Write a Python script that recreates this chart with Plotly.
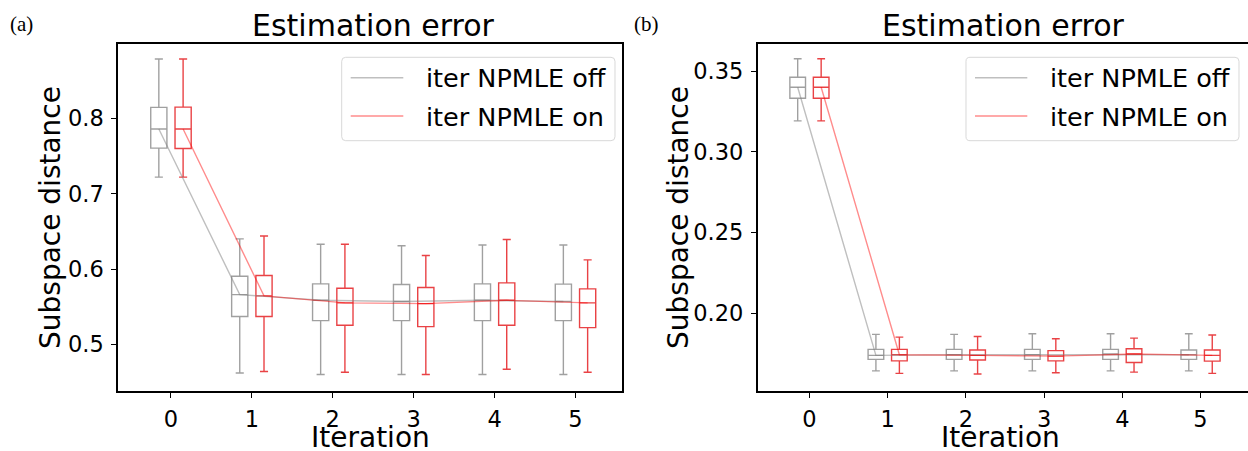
import plotly.graph_objects as go

W, H = 1248, 451

iterations = [0, 1, 2, 3, 4, 5]
offset = 0.15
labels = ["iter NPMLE off", "iter NPMLE on"]

# Panel (a)
a_off_lower = [0.722, 0.462, 0.460, 0.460, 0.460, 0.460]
a_off_q1 = [0.7605, 0.537, 0.5315, 0.5315, 0.5315, 0.5315]
a_off_med = [0.786, 0.566, 0.5585, 0.5568, 0.5585, 0.5568]
a_off_q3 = [0.8147, 0.5905, 0.5803, 0.5794, 0.5803, 0.580]
a_off_upper = [0.879, 0.640, 0.633, 0.631, 0.632, 0.632]

a_on_lower = [0.722, 0.464, 0.463, 0.460, 0.467, 0.463]
a_on_q1 = [0.760, 0.537, 0.5253, 0.5235, 0.5253, 0.5222]
a_on_med = [0.786, 0.5643, 0.555, 0.5541, 0.5585, 0.555]
a_on_q3 = [0.815, 0.5914, 0.5745, 0.5754, 0.5816, 0.5736]
a_on_upper = [0.879, 0.6438, 0.633, 0.618, 0.6393, 0.6122]

# Panel (b)
b_off_lower = [0.3192, 0.1642, 0.1642, 0.1642, 0.1642, 0.1642]
b_off_q1 = [0.3332, 0.1713, 0.1713, 0.1713, 0.1713, 0.1713]
b_off_med = [0.3401, 0.1738, 0.1742, 0.1742, 0.1746, 0.1742]
b_off_q3 = [0.3463, 0.1775, 0.1775, 0.1775, 0.1775, 0.1771]
b_off_upper = [0.3577, 0.1868, 0.1868, 0.1872, 0.1872, 0.1872]

b_on_lower = [0.3192, 0.1626, 0.1622, 0.1630, 0.1634, 0.1626]
b_on_q1 = [0.3332, 0.1704, 0.1709, 0.1704, 0.1694, 0.1702]
b_on_med = [0.3401, 0.1742, 0.1738, 0.1733, 0.1746, 0.1738]
b_on_q3 = [0.3463, 0.1775, 0.1771, 0.1767, 0.1779, 0.1771]
b_on_upper = [0.3577, 0.1851, 0.1855, 0.1841, 0.1845, 0.1864]

a_yticks = [0.5, 0.6, 0.7, 0.8]
b_yticks = [0.20, 0.25, 0.30, 0.35]

GRAY_BOX = "rgba(128,128,128,0.75)"
RED_BOX = "rgba(228,25,28,0.82)"
GRAY_LINE = "rgba(128,128,128,0.5)"
RED_LINE = "rgba(255,0,0,0.45)"
FONT = "DejaVu Sans"


def px(x):
    return x / W


def py(y):
    return 1 - y / H


fig = go.Figure()


def add_panel(xa, ya, off, on):
    for stats, sign, bc, lc in [(off, -1, GRAY_BOX, GRAY_LINE), (on, 1, RED_BOX, RED_LINE)]:
        lo, q1, med, q3, up = stats
        xs = [i + sign * offset for i in iterations]
        fig.add_trace(go.Box(
            x=xs, q1=q1, median=med, q3=q3, lowerfence=lo, upperfence=up,
            width=0.2, whiskerwidth=0.5, boxpoints=False,
            line=dict(color=bc, width=1.4), fillcolor="rgba(255,255,255,0)",
            xaxis=xa, yaxis=ya, showlegend=False, hoverinfo="skip"))
        fig.add_trace(go.Scatter(
            x=xs, y=med, mode="lines", line=dict(color=lc, width=1.4),
            xaxis=xa, yaxis=ya, showlegend=False, hoverinfo="skip"))


add_panel("x", "y",
          (a_off_lower, a_off_q1, a_off_med, a_off_q3, a_off_upper),
          (a_on_lower, a_on_q1, a_on_med, a_on_q3, a_on_upper))
add_panel("x2", "y2",
          (b_off_lower, b_off_q1, b_off_med, b_off_q3, b_off_upper),
          (b_on_lower, b_on_q1, b_on_med, b_on_q3, b_on_upper))

axis_common = dict(showline=True, mirror=True, linecolor="black", linewidth=2,
                   showgrid=False, zeroline=False, ticks="outside", ticklen=5,
                   tickwidth=1.2, tickcolor="black", automargin=False,
                   tickfont=dict(family=FONT, size=22.5, color="black"))

a_left, a_right = 118.3, 621.7
b_left, b_right = 757.8, 1248.0
top, bottom = 43.5, 390.5

fig.update_layout(
    width=W, height=H,
    margin=dict(l=0, r=0, t=0, b=0, autoexpand=False),
    paper_bgcolor="white", plot_bgcolor="white",
    boxmode="overlay",
    showlegend=False,
    xaxis=dict(domain=[px(a_left), px(a_right)], range=[-0.651, 5.571],
               tickvals=iterations, ticktext=[str(i) for i in iterations],
               anchor="y", ticklabelstandoff=2, **axis_common),
    yaxis=dict(domain=[py(bottom), py(top)], range=[0.4387, 0.8995],
               tickvals=a_yticks, ticktext=[f"{v:.1f}" for v in a_yticks],
               anchor="x", ticklabelstandoff=3, **axis_common),
    xaxis2=dict(domain=[px(b_left), px(b_right)], range=[-0.66, 5.607],
                tickvals=iterations, ticktext=[str(i) for i in iterations],
                anchor="y2", ticklabelstandoff=2, **axis_common),
    yaxis2=dict(domain=[py(bottom), py(top)], range=[0.152, 0.3672],
                tickvals=b_yticks, ticktext=[f"{v:.2f}" for v in b_yticks],
                anchor="x2", ticklabelstandoff=3, **axis_common),
)

annotations = []
shapes = []


def text(x, y, s, size, family=FONT, xanchor="center", yanchor="middle", angle=0):
    annotations.append(dict(x=px(x), y=py(y), xref="paper", yref="paper", text=s,
                            showarrow=False, xanchor=xanchor, yanchor=yanchor,
                            textangle=angle,
                            font=dict(family=family, size=size, color="black")))


def rounded_rect(x0, y0, x1, y1, r=4):
    X = lambda v: f"{px(v):.6f}"
    Y = lambda v: f"{py(v):.6f}"
    path = (f"M {X(x0 + r)},{Y(y0)} L {X(x1 - r)},{Y(y0)} Q {X(x1)},{Y(y0)} {X(x1)},{Y(y0 + r)} "
            f"L {X(x1)},{Y(y1 - r)} Q {X(x1)},{Y(y1)} {X(x1 - r)},{Y(y1)} "
            f"L {X(x0 + r)},{Y(y1)} Q {X(x0)},{Y(y1)} {X(x0)},{Y(y1 - r)} "
            f"L {X(x0)},{Y(y0 + r)} Q {X(x0)},{Y(y0)} {X(x0 + r)},{Y(y0)} Z")
    shapes.append(dict(type="path", path=path, xref="paper", yref="paper",
                       line=dict(color="#d8d8d8", width=1), fillcolor="rgba(255,255,255,0.8)"))


def legend(x0, x1, line_x0, line_x1, text_x):
    rounded_rect(x0, 57.3, x1, 140.7)
    for yy, col, lab in [(77.7, GRAY_LINE, labels[0]), (116.0, RED_LINE, labels[1])]:
        shapes.append(dict(type="line", xref="paper", yref="paper",
                           x0=px(line_x0), x1=px(line_x1), y0=py(yy), y1=py(yy),
                           line=dict(color=col, width=1.4)))
        text(text_x, yy + 0.5, lab, 25.5, xanchor="left")


legend(341.7, 615.0, 350.7, 403.3, 424.0)
legend(966.0, 1239.0, 975.0, 1027.3, 1047.5)

# titles
text((a_left + a_right) / 2 + 3, 26, "Estimation error", 30)
text((b_left + 1244) / 2 + 3, 26, "Estimation error", 30)
# axis titles
text(50, 218, "Subspace distance", 28, angle=-90)
text(678, 218, "Subspace distance", 28, angle=-90)
text((a_left + a_right) / 2, 437, "Iteration", 28)
text((b_left + 1244) / 2, 437, "Iteration", 28)
# panel labels
text(8, 24, "(a)", 21, family="Liberation Serif", xanchor="left")
text(632, 24, "(b)", 21, family="Liberation Serif", xanchor="left")

fig.update_layout(annotations=annotations, shapes=shapes)

fig.write_html(
    "out.html",
    config={"displayModeBar": False},
    post_script="document.body.style.margin='0';document.body.style.padding='0';"
                "document.body.style.overflow='hidden';",
)
